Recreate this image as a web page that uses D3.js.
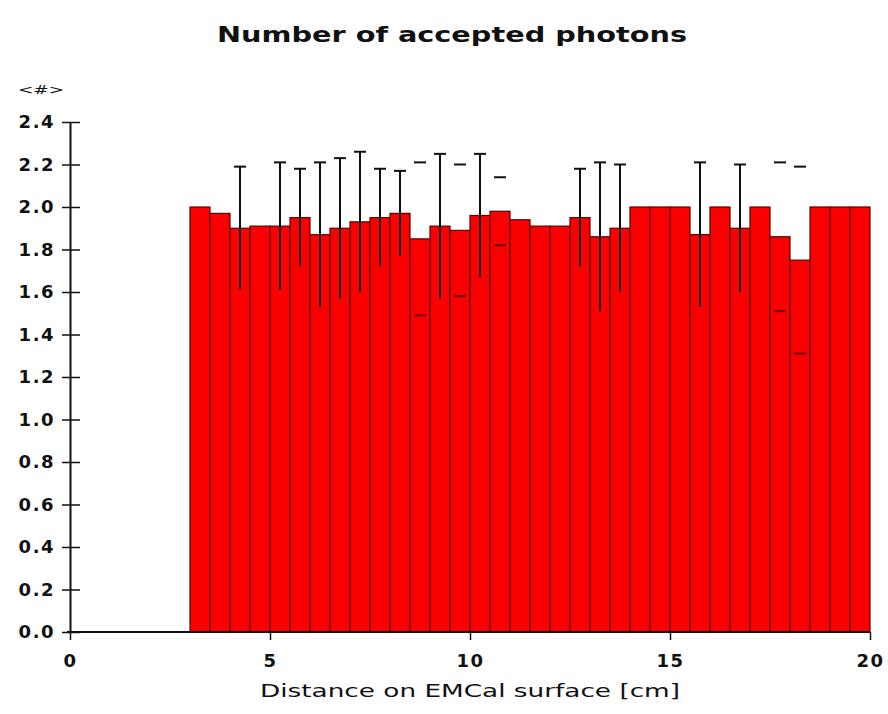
<!DOCTYPE html>
<html>
<head>
<meta charset="utf-8">
<script src="https://cdn.jsdelivr.net/npm/d3@7"></script>
<style>
  html, body { margin: 0; padding: 0; background: #ffffff; }
  svg { display: block; }
  text { fill: #111; font-family: "DejaVu Sans", Verdana, sans-serif; }
</style>
</head>
<body>
<svg id="chart" width="888" height="714"></svg>
<script>
// Histogram: mean number of accepted photons per 0.5 cm bin
const binStart = 3.0;
const binWidth = 0.5;
const values = [2.00, 1.97, 1.90, 1.91, 1.91, 1.95, 1.87, 1.90, 1.93, 1.95,
                1.97, 1.85, 1.91, 1.89, 1.96, 1.98, 1.94, 1.91, 1.91, 1.95,
                1.86, 1.90, 2.00, 2.00, 2.00, 1.87, 2.00, 1.90, 2.00, 1.86,
                1.75, 2.00, 2.00, 2.00];
const errors = [0, 0, 0.29, 0, 0.30, 0.23, 0.34, 0.33, 0.33, 0.23,
                0.20, 0.36, 0.34, 0.31, 0.29, 0.16, 0, 0, 0, 0.23,
                0.35, 0.30, 0, 0, 0, 0.34, 0, 0.30, 0, 0.35,
                0.44, 0, 0, 0];
// bins whose error is marked only by the end caps
const capOnlyBins = [11, 13, 15, 29, 30];

const xTicks = [0, 5, 10, 15, 20];
const yTicks = [0.0, 0.2, 0.4, 0.6, 0.8, 1.0, 1.2, 1.4, 1.6, 1.8, 2.0, 2.2, 2.4];

const titleText = "Number of accepted photons";
const xLabelText = "Distance on EMCal surface [cm]";
const yLabelText = "<#>";

const svg = d3.select("#chart");
const x = d3.scaleLinear().domain([0, 20]).range([70, 870]);
const y = d3.scaleLinear().domain([0, 2.4]).range([632, 122]);

const bins = values.map((v, i) => ({
  i,
  x0: binStart + i * binWidth,
  x1: binStart + (i + 1) * binWidth,
  v,
  e: errors[i]
}));

// bars
svg.append("g")
  .selectAll("rect")
  .data(bins)
  .join("rect")
  .attr("x", d => x(d.x0))
  .attr("y", d => y(d.v))
  .attr("width", d => x(d.x1) - x(d.x0))
  .attr("height", d => y(0) - y(d.v))
  .attr("fill", "#fa0000")
  .attr("stroke", "#5a0000")
  .attr("stroke-width", 1.2);

// error bars
const eg = svg.append("g").attr("stroke", "#111").attr("stroke-width", 2);
const withErr = bins.filter(d => d.e > 0);
const capHalf = 6;
eg.selectAll("line.err")
  .data(withErr.filter(d => !capOnlyBins.includes(d.i)))
  .join("line")
  .attr("class", "err")
  .attr("x1", d => x((d.x0 + d.x1) / 2))
  .attr("x2", d => x((d.x0 + d.x1) / 2))
  .attr("y1", d => y(d.v + d.e))
  .attr("y2", d => y(d.v - d.e));
eg.selectAll("line.cap")
  .data(withErr)
  .join("line")
  .attr("class", "cap")
  .attr("x1", d => x((d.x0 + d.x1) / 2) - capHalf)
  .attr("x2", d => x((d.x0 + d.x1) / 2) + capHalf)
  .attr("y1", d => y(d.v + d.e))
  .attr("y2", d => y(d.v + d.e));
eg.selectAll("line.lcap")
  .data(withErr.filter(d => capOnlyBins.includes(d.i)))
  .join("line")
  .attr("class", "lcap")
  .attr("stroke", "#6a0000")
  .attr("x1", d => x((d.x0 + d.x1) / 2) - capHalf)
  .attr("x2", d => x((d.x0 + d.x1) / 2) + capHalf)
  .attr("y1", d => y(d.v - d.e))
  .attr("y2", d => y(d.v - d.e));

// x axis
const xAxis = d3.axisBottom(x)
  .tickValues(xTicks)
  .tickFormat(d3.format("d"))
  .tickSize(8)
  .tickSizeOuter(0)
  .tickPadding(14);
const gx = svg.append("g").attr("transform", `translate(0,${y(0)})`).call(xAxis);
gx.select(".domain").attr("stroke", "#111").attr("stroke-width", 2).attr("d", `M${x(0) - 3},0H${x(20)}`);
gx.selectAll(".tick line").attr("stroke", "#111").attr("stroke-width", 1.5);
gx.selectAll(".tick text")
  .style("font-family", '"DejaVu Sans", sans-serif')
  .style("font-weight", "bold")
  .style("font-size", "18px")
  .style("letter-spacing", "1.5px")
  .attr("fill", "#111");

// y axis with ticks crossing the spine
const yAxis = d3.axisLeft(y)
  .tickValues(yTicks)
  .tickFormat(d3.format(".1f"))
  .tickSize(8)
  .tickSizeOuter(0)
  .tickPadding(7);
const gy = svg.append("g").attr("transform", `translate(${x(0)},0)`).call(yAxis);
gy.select(".domain").attr("stroke", "#111").attr("stroke-width", 2);
gy.selectAll(".tick line").attr("stroke", "#111").attr("stroke-width", 1.5).attr("x2", 10).attr("x1", -8);
gy.selectAll(".tick text")
  .style("font-family", '"DejaVu Sans", sans-serif')
  .style("font-weight", "bold")
  .style("font-size", "18px")
  .style("letter-spacing", "1.5px")
  .attr("fill", "#111");

// title and labels
svg.append("text")
  .attr("x", 452).attr("y", 42)
  .attr("text-anchor", "middle")
  .attr("textLength", 470)
  .attr("lengthAdjust", "spacingAndGlyphs")
  .style("font-weight", "bold")
  .style("font-size", "22px")
  .text(titleText);

svg.append("text")
  .attr("x", 470).attr("y", 697)
  .attr("text-anchor", "middle")
  .attr("textLength", 420)
  .attr("lengthAdjust", "spacingAndGlyphs")
  .style("font-size", "18px")
  .text(xLabelText);

svg.append("text")
  .attr("x", 18).attr("y", 94)
  .attr("textLength", 46)
  .attr("lengthAdjust", "spacingAndGlyphs")
  .style("font-size", "13px")
  .attr("fill", "#333")
  .text(yLabelText);
</script>
</body>
</html>
